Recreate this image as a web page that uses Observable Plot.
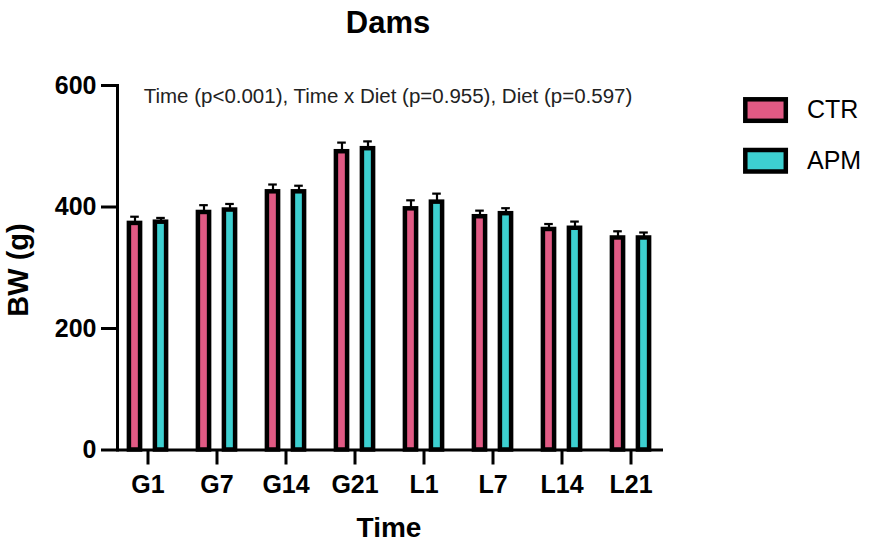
<!DOCTYPE html>
<html><head><meta charset="utf-8">
<script src="https://cdn.jsdelivr.net/npm/d3@7"></script>
<script src="https://cdn.jsdelivr.net/npm/@observablehq/plot@0.6"></script>
<style>body{margin:0;background:#fff} #chart{position:relative;width:873px;height:546px}</style>
</head><body><div id="chart"></div>
<script>
const times = ["G1","G7","G14","G21","L1","L7","L14","L21"];
const diets = ["CTR","APM"];
const dietColors = ["#e15a84","#3dcfd0"];
const ctrMean = [373, 391, 425, 491, 397, 384, 363, 349];
const ctrSem  = [11, 12, 12, 15, 14, 10, 9, 11];
const apmMean = [375, 395, 425, 496, 408, 389, 365, 349];
const apmSem  = [7, 10, 10, 12, 14, 9, 11, 9];
const yTicks = [0, 200, 400, 600];
const titleText = "Dams";
const noteText = "Time (p<0.001), Time x Diet (p=0.955), Diet (p=0.597)";
const xLabel = "Time";
const yLabel = "BW (g)";

const ctr = times.map((t,i)=>({time:t, mean:ctrMean[i], top:ctrMean[i]+ctrSem[i]}));
const apm = times.map((t,i)=>({time:t, mean:apmMean[i], top:apmMean[i]+apmSem[i]}));

const font = "Liberation Sans, Arial, Helvetica, sans-serif";
const barInset = 28.9, capInset = 30.2, off = 13;

function series(data, color, dx) {
  return [
    Plot.ruleX(data, {x:"time", y1:"mean", y2:"top", dx, stroke:"#000", strokeWidth:2.2}),
    Plot.tickY(data, {x:"time", y:"top", dx, stroke:"#000", strokeWidth:2.2, insetLeft:capInset, insetRight:capInset}),
    Plot.barY(data, {x:"time", y:"mean", dx, fill:color, stroke:"#000", strokeWidth:4.5, insetLeft:barInset, insetRight:barInset})
  ];
}

const chart = Plot.plot({
  width: 873, height: 546,
  marginLeft: 117, marginRight: 210, marginTop: 85, marginBottom: 96.5,
  style: {fontFamily: font, background: "#fff", color: "#000"},
  x: {domain: times, range: [111, 666], padding: 0, label: null},
  y: {domain: [0, 600], label: null},
  marks: [
    ...series(ctr, dietColors[0], -off),
    ...series(apm, dietColors[1], off),
    Plot.ruleY([0], {stroke:"#000", strokeWidth:3}),
    Plot.frame({anchor:"left", stroke:"#000", strokeWidth:3}),
    Plot.axisY({ticks: yTicks, tickSize: 16, tickPadding: 5, fontSize: 25, fontWeight: "bold", strokeWidth: 3, label: null, tickFormat: d=>String(d)}),
    Plot.axisX({tickSize: 15, tickPadding: 10, fontSize: 25, fontWeight: "bold", strokeWidth: 3, label: null})
  ]
});
document.getElementById("chart").appendChild(chart);

const svg = d3.select(chart);
const g = svg.append("g").attr("font-family", font).attr("fill", "#000");
g.append("text").attr("x", 388).attr("y", 33).attr("text-anchor","middle")
  .attr("font-size", 31).attr("font-weight","bold").text(titleText);
g.append("text").attr("x", 388).attr("y", 103).attr("text-anchor","middle")
  .attr("font-size", 20.5).attr("fill","#222").text(noteText);
g.append("text").attr("x", 389).attr("y", 537).attr("text-anchor","middle")
  .attr("font-size", 28).attr("font-weight","bold").text(xLabel);
g.append("text").attr("transform","translate(28,270) rotate(-90)").attr("text-anchor","middle")
  .attr("font-size", 29).attr("font-weight","bold").text(yLabel);
const legY = [99.3, 150];
diets.forEach((d,i)=>{
  g.append("rect").attr("x",745.3).attr("y",legY[i]).attr("width",40.5).attr("height",21.5)
    .attr("fill",dietColors[i]).attr("stroke","#000").attr("stroke-width",4.5);
  g.append("text").attr("x",807).attr("y",legY[i]+19).attr("text-anchor","start")
    .attr("font-size",25).text(d);
});
</script></body></html>
